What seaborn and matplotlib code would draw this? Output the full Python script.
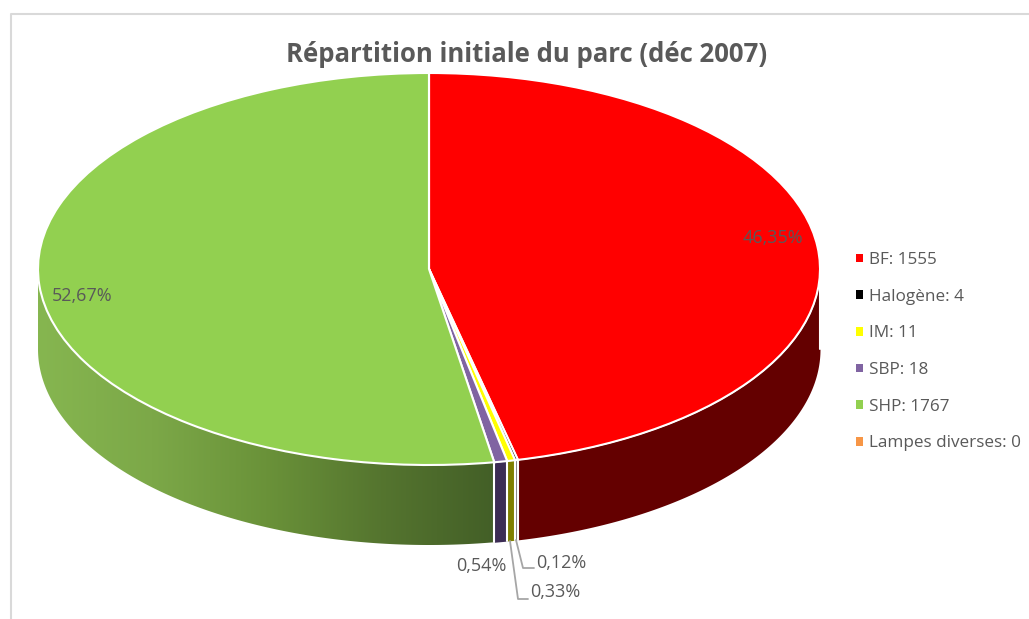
import numpy as np
import matplotlib
matplotlib.use("Agg")
import matplotlib.pyplot as plt
import seaborn as sns
from matplotlib.colors import LinearSegmentedColormap
from matplotlib.patches import Patch

# data
categories = ['BF', 'Halogène', 'IM', 'SBP', 'SHP', 'Lampes diverses']
values = [1555, 4, 11, 18, 1767, 0]
top_colors = ['#ff0000', '#000000', '#ffff00', '#8064a2', '#92d050', '#f79646']
side_colors = ['#640000', '#808080', '#7f7f00', '#3c2c54', None, '#f79646']
title = 'Répartition initiale du parc (déc 2007)'

# image layout, in pixels
W, H = 1029, 619
CX, CY, RX, RY, DEPTH = 429, 269, 391, 196, 80
TEXT = '#595959'

sns.set_theme(style="white")
plt.rcParams['font.family'] = ['Open Sans', 'DejaVu Sans']


def px(x, y):
    # pixel position in the picture -> data coords of the squashed pie
    return (x - CX) / RX, (CY - y) / RY


fig = plt.figure(figsize=(W / 100, H / 100), dpi=100)
ax = fig.add_axes([0, 0, 1, 1])

ax.pie(values, colors=top_colors, startangle=90, counterclock=False, radius=1,
       wedgeprops=dict(edgecolor='white', linewidth=1.5, zorder=5))
ax.set_aspect('auto')
ax.set_xlim(px(0, 0)[0], px(W, 0)[0])
ax.set_ylim(px(0, H)[1], px(0, 0)[1])
xlim, ylim = ax.get_xlim(), ax.get_ylim()

# side wall of the disc, only the front half shows
depth = DEPTH / RY
shares = np.array(values) / sum(values)
edges = np.concatenate([[0], np.cumsum(shares)]) * 360
green_cmap = LinearSegmentedColormap.from_list(
    'side', ['#86b650', '#7ca848', '#6a9239', '#55752f', '#435f27'])

for i, col in enumerate(side_colors):
    a = max(edges[i], 90)
    b = min(edges[i + 1], 270)
    if b <= a:
        continue
    th = np.radians(np.linspace(a, b, 200))
    xs, ys = np.sin(th), np.cos(th)
    order = np.argsort(xs)
    if col is not None:
        ax.fill_between(xs[order], ys[order], ys[order] - depth, color=col,
                        linewidth=0, zorder=2)
        ax.plot([xs[0], xs[0]], [ys[0], ys[0] - depth], color='white', lw=1.5, zorder=3)
    else:
        poly = ax.fill_between(xs[order], ys[order], ys[order] - depth,
                               facecolor='none', linewidth=0, zorder=2)
        grad = np.linspace(0, 1, 256).reshape(1, -1)
        im = ax.imshow(grad, cmap=green_cmap, aspect='auto', zorder=2,
                       extent=[xs.min(), xs.max(), -1 - depth, 1])
        im.set_clip_path(poly.get_paths()[0], transform=ax.transData)
        ax.plot([xs[0], xs[0]], [ys[0], ys[0] - depth], color='white', lw=1.5, zorder=3)
ax.set_xlim(xlim)
ax.set_ylim(ylim)
ax.axis('off')

# chart frame, cut by the picture on the right and at the bottom
fx, fy = zip(px(11, H), px(11, 14), px(W, 14))
ax.plot(fx, fy, color='#d9d9d9', lw=1.5, zorder=1, clip_on=False)

ax.text(*px(527, 55), title, ha='center', va='center', fontsize=18.55,
        fontweight='bold', color=TEXT)

# percentage labels
pct = ['%.2f%%' % (s * 100) for s in shares]
pct = [p.replace('.', ',') for p in pct]
spots = {0: (773, 238), 1: (561, 563), 2: (555, 592), 3: (481, 566), 4: (82, 296)}
for i, (x, y) in spots.items():
    ax.text(*px(x, y), pct[i], ha='center', va='center', fontsize=13,
            color=TEXT, zorder=8)

# leader lines for the two thin slices
for pts in ([(516, 540), (523, 568), (534, 568)], [(510, 541), (518, 599), (528, 599)]):
    lx, ly = zip(*[px(*p) for p in pts])
    ax.plot(lx, ly, color='#a6a6a6', lw=1.3, zorder=7)

handles = [Patch(facecolor=c, edgecolor='none') for c in top_colors]
labels = ['%s: %d' % (c, v) for c, v in zip(categories, values)]
ax.legend(handles, labels, loc='upper left', bbox_to_anchor=px(851, 247),
          bbox_transform=ax.transData, frameon=False, fontsize=12.3, labelcolor=TEXT,
          handlelength=0.42, handleheight=0.42, handletextpad=0.36, labelspacing=1.21,
          borderpad=0.3, borderaxespad=0)

fig.savefig('out.png', dpi=100)
